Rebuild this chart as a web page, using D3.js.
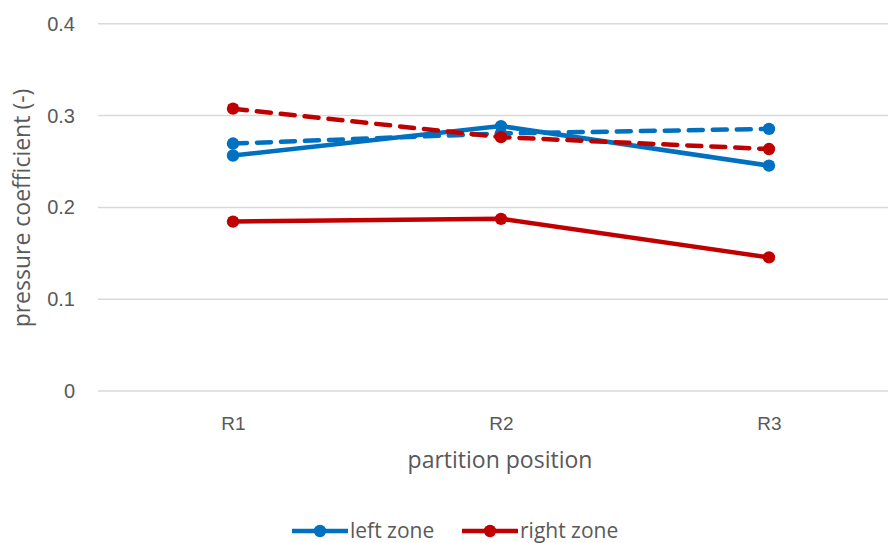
<!DOCTYPE html>
<html><head><meta charset="utf-8">
<script src="https://cdn.jsdelivr.net/npm/d3@7"></script>
<style>body{margin:0;background:#fff}svg{display:block;font-family:"Open Sans",sans-serif}</style>
</head><body><svg id="c" width="888" height="543"></svg>
<script>
const categories = ["R1","R2","R3"];
const leftSolid  = [0.256, 0.288, 0.245];
const leftDashed = [0.269, 0.280, 0.285];
const rightSolid = [0.184, 0.187, 0.145];
const rightDashed= [0.307, 0.276, 0.263];
const yTicks = [0, 0.1, 0.2, 0.3, 0.4];
const seriesNames = ["left zone","right zone"];

const series = [
  {v:leftSolid, c:"#0070C0", dash:null},
  {v:rightSolid, c:"#C00000", dash:null},
  {v:leftDashed, c:"#0070C0", dash:"14,10"},
  {v:rightDashed, c:"#C00000", dash:"14,10"}
];
const svg = d3.select("#c");
const x = d3.scalePoint().domain(categories).range([233,769]);
const y = d3.scaleLinear().domain([0,0.4]).range([390.5,23.3]);

const yAxis = svg.append("g").attr("transform","translate(98,0)")
  .call(d3.axisLeft(y).tickValues(yTicks).tickSize(-805).tickFormat(d=>d===0?"0":d3.format(".1f")(d)));
yAxis.select(".domain").remove();
yAxis.selectAll(".tick line").attr("stroke","#D9D9D9").attr("stroke-width",1.5);
yAxis.selectAll(".tick text").attr("x",-23).attr("fill","#595959").style("font-size","20px").attr("dy","0.35em");

const xAxis = svg.append("g").attr("transform","translate(0,390.5)")
  .call(d3.axisBottom(x).tickSize(0));
xAxis.select(".domain").remove();
xAxis.selectAll(".tick text").attr("y",39).attr("dy","0").attr("fill","#595959").style("font-size","19px");

svg.append("text").attr("x",500).attr("y",468).attr("text-anchor","middle")
  .attr("fill","#595959").style("font-size","23px").text("partition position");
svg.append("text").attr("transform","translate(30,208) rotate(-90)").attr("text-anchor","middle")
  .attr("fill","#595959").style("font-size","23px").text("pressure coefficient (-)");

const line = d3.line().x((d,i)=>x(categories[i])).y(d=>y(d));
series.forEach(s=>{
  svg.append("path").datum(s.v).attr("d",line).attr("fill","none").attr("stroke",s.c)
    .attr("stroke-width",4.5).attr("stroke-linecap",s.dash?"round":"butt")
    .attr("stroke-dasharray",s.dash);
  svg.selectAll(null).data(s.v).enter().append("circle")
    .attr("cx",(d,i)=>x(categories[i])).attr("cy",d=>y(d)).attr("r",6.2).attr("fill",s.c);
});

const leg = [{n:seriesNames[0],c:"#0070C0",x0:292},{n:seriesNames[1],c:"#C00000",x0:462}];
leg.forEach(l=>{
  svg.append("line").attr("x1",l.x0).attr("x2",l.x0+56).attr("y1",531).attr("y2",531)
    .attr("stroke",l.c).attr("stroke-width",4.5);
  svg.append("circle").attr("cx",l.x0+28).attr("cy",531).attr("r",6.2).attr("fill",l.c);
  svg.append("text").attr("x",l.x0+58).attr("y",531).attr("dy","0.35em")
    .attr("fill","#595959").style("font-size","21px").text(l.n);
});
</script></body></html>
